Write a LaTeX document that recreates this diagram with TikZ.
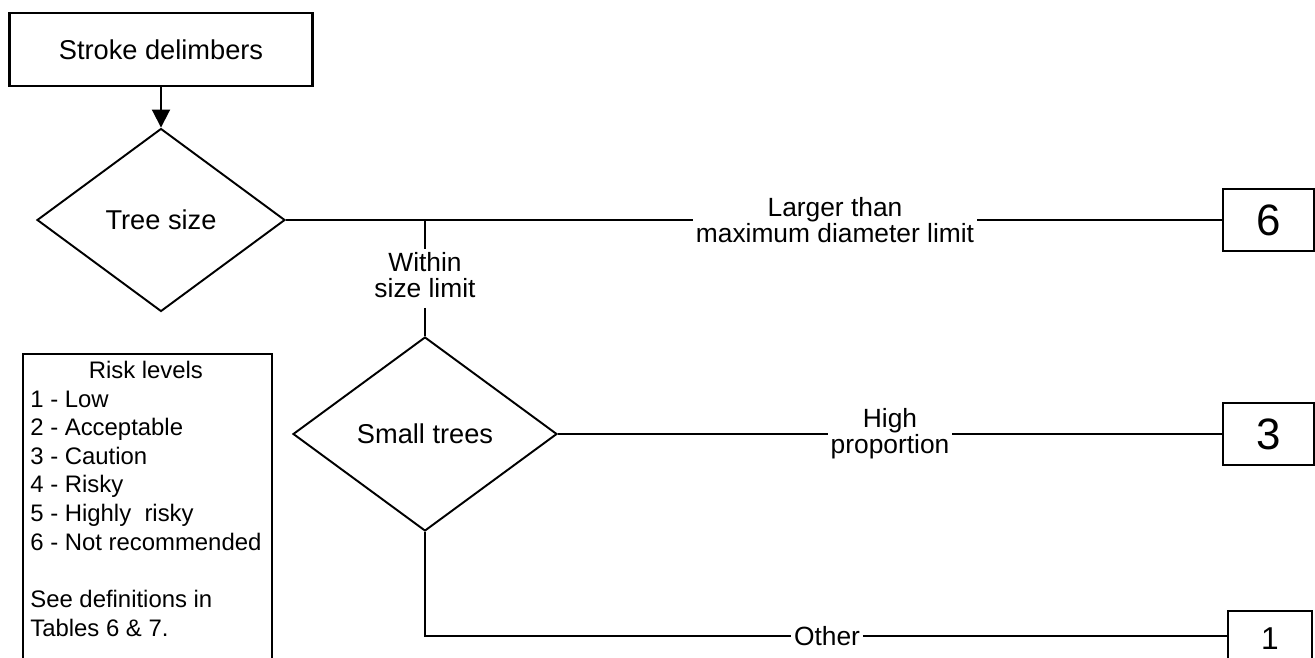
\documentclass[tikz,border=0pt]{standalone}
\usepackage{fontspec}
\setmainfont{Liberation Sans}
\usepackage{tikz}
\usetikzlibrary{shapes}
\usetikzlibrary{arrows.meta}
\tikzstyle{Box}=[draw,line width=1.3pt,minimum width=6.06cm,minimum height=1.46cm,
font=\fontsize{15.5}{15.5}\selectfont]
\tikzstyle{Level}=[draw,line width=1.3pt,minimum width=1.82cm,minimum height=1.24cm,
font=\fontsize{25}{25}\selectfont]
\tikzstyle{Decision}=[diamond,draw,line width=1.1pt,inner sep=0pt,
font=\fontsize{15.5}{15.5}\selectfont]
\tikzstyle{Edge}=[draw,line width=1.1pt]
\tikzstyle{EdgeLabel}=[align=center,inner xsep=1.5pt,inner ysep=1.5pt,
font=\fontsize{15}{15}\selectfont]
\tikzstyle{Legend}=[anchor=north west,inner sep=0pt,font=\fontsize{13.6}{16.3}\selectfont]

\begin{document}
\begin{tikzpicture}[x=0.02cm,y=-0.02cm]
        \useasboundingbox(0,0)rectangle(1315,658);
        \clip(0,0)rectangle(1315,658);
        \node[Box](start)at(161,49.5){Stroke delimbers};
        \node[Decision,minimum width=4.96cm,minimum height=3.66cm](size)at(161,220){Tree size};
        \node[Decision,minimum width=5.28cm,minimum height=3.88cm](small)at(425,434){Small trees};
        \node[Level](l6)at(1268.5,220){6};
        \node[Level](l3)at(1268.5,434){3};
        \node[Level,minimum width=1.68cm,minimum height=1.1cm,
            font=\fontsize{18}{18}\selectfont](l1)at(1270,638.5){1};
        \node[EdgeLabel](larger)at(835,220){Larger than\\maximum diameter limit};
        \node[EdgeLabel](within)at(425,275){Within\\size limit};
        \node[EdgeLabel](high)at(890,434){High\\proportion};
        \node[EdgeLabel](other)at(827,636){Other};
        \coordinate(split)at(small.north |- size.east);
        \draw[Edge,-{Triangle[width=0.36cm,length=0.36cm]}](start)--(size);
        \draw[Edge](size.east)--(larger.west);
        \draw[Edge](larger.east)--(l6.west);
        \draw[Edge](split)--(within.north);
        \draw[Edge,shorten <=4pt](within.south)--(small.north);
        \draw[Edge](small.east)--(high.west);
        \draw[Edge](high.east)--(l3.west);
        \draw[Edge](small.south)|-(other.west);
        \draw[Edge](other.east)--(other.east -| l1.west);
        % legend
        \node[Legend](legend)at(30,358){\begin{tabular}{@{}l@{}}
            \multicolumn{1}{@{}c@{}}{Risk levels}\\
            1 - Low\\
            2 - Acceptable\\
            3 - Caution\\
            4 - Risky\\
            5 - Highly\ \ risky\\
            6 - Not recommended\\
            \\
            See definitions in\\
            Tables 6 \& 7.
        \end{tabular}};
        \draw[line width=0.6pt](23,700)|-(272,354)--(272,700);
    \end{tikzpicture}
\end{document}
